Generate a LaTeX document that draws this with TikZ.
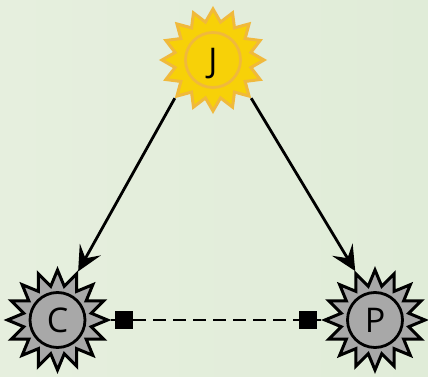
\documentclass[tikz,border=0pt]{standalone}
\usepackage{fontspec}
\setmainfont{Open Sans}
\usetikzlibrary{shapes.geometric,arrows.meta}
\definecolor{bgleft}{RGB}{230,239,222}
\definecolor{bgright}{RGB}{224,236,216}
\definecolor{sunfill}{RGB}{247,209,8}
\definecolor{sunline}{RGB}{240,185,60}
\definecolor{planfill}{RGB}{168,168,168}
\tikzset{
  sunstar/.style={star, star points=16, inner sep=0pt, line width=3pt},
  core/.style={circle, minimum size=55pt, inner sep=0pt, line width=2.8pt, font=\fontsize{34}{34}\selectfont, text height=24.5pt, text depth=0pt},
  yellowsun/.style={fill=sunfill, draw=sunline},
  graysun/.style={fill=planfill, draw=black},
  link/.style={line width=2.8pt, -{Stealth[length=25pt, width=24pt, inset=10pt]}},
  endbox/.style={rectangle, fill=black, draw=black, line width=1pt, minimum size=17pt, inner sep=0pt},
  dashlink/.style={line width=2.8pt, dash pattern=on 13pt off 7pt}
}
\begin{document}
\begin{tikzpicture}[x=1pt,y=-1pt]
\shade[left color=bgleft, right color=bgright] (0,0) rectangle (428,377);
\useasboundingbox (0,0) rectangle (428,377);
\node[sunstar, yellowsun, star point ratio=1.32, minimum size=102pt] (J) at (213,60) {};
\node[core, yellowsun] (Jc) at (J.center) {J};
\node[sunstar, graysun, star point ratio=1.45, minimum size=100pt] (C) at (57.5,320) {};
\node[core, graysun] (Cc) at (C.center) {C};
\node[sunstar, graysun, star point ratio=1.45, minimum size=100pt] (P) at (375,320) {};
\node[core, graysun] (Pc) at (P.center) {P};
\draw[link] (J.225) -- (C.67.5);
\draw[link] (J.315) -- (P.112.5);
\node[endbox] (sq1) at (124,320) {};
\node[endbox] (sq2) at (308,320) {};
\draw[line width=2.8pt] (C.0) -- (sq1);
\draw[line width=2.8pt] (sq2) -- (P.180);
\draw[dashlink] (sq1.east) -- (sq2.west);
\end{tikzpicture}
\end{document}
